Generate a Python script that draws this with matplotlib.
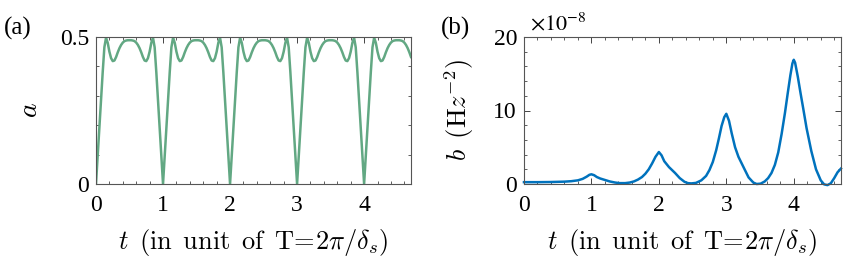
import numpy as np
import matplotlib
matplotlib.use("Agg")
import matplotlib.pyplot as plt
from matplotlib.ticker import MultipleLocator

plt.rcParams['font.family'] = ['Liberation Serif', 'DejaVu Serif']
plt.rcParams['mathtext.fontset'] = 'stix'

# panel (a): a(t), read every 0.025 T (one row per period)
t_a = [round(0.025 * k, 3) for k in range(189)]
a_vals = (
    [0.000, 0.095, 0.190, 0.285, 0.380, 0.465, 0.498, 0.480, 0.450, 0.428,
     0.418, 0.420, 0.432, 0.448, 0.462, 0.473, 0.481, 0.486, 0.488, 0.489,
     0.489, 0.489, 0.488, 0.486, 0.481, 0.473, 0.462, 0.448, 0.432, 0.420,
     0.418, 0.428, 0.450, 0.480, 0.498, 0.465, 0.380, 0.285, 0.190, 0.095]
    + [0.000, 0.095, 0.190, 0.285, 0.380, 0.465, 0.498, 0.480, 0.450, 0.428,
       0.418, 0.420, 0.432, 0.448, 0.462, 0.473, 0.481, 0.486, 0.488, 0.489,
       0.489, 0.489, 0.488, 0.486, 0.481, 0.473, 0.462, 0.448, 0.432, 0.420,
       0.418, 0.428, 0.450, 0.480, 0.498, 0.465, 0.380, 0.285, 0.190, 0.095]
    + [0.000, 0.095, 0.190, 0.285, 0.380, 0.465, 0.498, 0.480, 0.450, 0.428,
       0.418, 0.420, 0.432, 0.448, 0.462, 0.473, 0.481, 0.486, 0.488, 0.489,
       0.489, 0.489, 0.488, 0.486, 0.481, 0.473, 0.462, 0.448, 0.432, 0.420,
       0.418, 0.428, 0.450, 0.480, 0.498, 0.465, 0.380, 0.285, 0.190, 0.095]
    + [0.000, 0.095, 0.190, 0.285, 0.380, 0.465, 0.498, 0.480, 0.450, 0.428,
       0.418, 0.420, 0.432, 0.448, 0.462, 0.473, 0.481, 0.486, 0.488, 0.489,
       0.489, 0.489, 0.488, 0.486, 0.481, 0.473, 0.462, 0.448, 0.432, 0.420,
       0.418, 0.428, 0.450, 0.480, 0.498, 0.465, 0.380, 0.285, 0.190, 0.095]
    + [0.000, 0.095, 0.190, 0.285, 0.380, 0.465, 0.498, 0.480, 0.450, 0.428,
       0.418, 0.420, 0.432, 0.448, 0.462, 0.473, 0.481, 0.486, 0.488, 0.489,
       0.489, 0.489, 0.488, 0.486, 0.481, 0.473, 0.462, 0.448, 0.432]
)

# panel (b): b(t) in units of 1e-8 Hz^-2
t_b = [0, 0.2, 0.4, 0.6, 0.7, 0.8, 0.87, 0.93, 0.97, 1.0, 1.04, 1.08, 1.13,
       1.2, 1.27, 1.35, 1.42, 1.5, 1.57, 1.63, 1.69, 1.75, 1.8, 1.85, 1.9,
       1.95, 2.0, 2.04, 2.08, 2.15, 2.24, 2.31, 2.38, 2.43, 2.48, 2.55, 2.63,
       2.7, 2.75, 2.8, 2.85, 2.89, 2.93, 2.97, 3.0, 3.04, 3.08, 3.13, 3.18,
       3.26, 3.33, 3.4, 3.45, 3.51, 3.57, 3.62, 3.67, 3.72, 3.77, 3.82, 3.87,
       3.91, 3.95, 3.98, 4.0, 4.02, 4.06, 4.1, 4.14, 4.19, 4.26, 4.33, 4.4,
       4.45, 4.5, 4.55, 4.6, 4.65, 4.7]
b_vals = [0.25, 0.25, 0.27, 0.32, 0.38, 0.5, 0.7, 1.0, 1.25, 1.32, 1.2, 0.95,
          0.75, 0.55, 0.35, 0.2, 0.12, 0.12, 0.2, 0.35, 0.6, 0.95, 1.4, 2.0,
          2.8, 3.7, 4.35, 3.9, 3.1, 2.3, 1.5, 0.8, 0.3, 0.12, 0.08, 0.15, 0.5,
          1.1, 1.9, 3.0, 4.6, 6.2, 7.9, 9.1, 9.55, 8.6, 6.9, 5.0, 3.7, 2.2,
          0.9, 0.2, 0.0, 0.05, 0.35, 0.8, 1.5, 2.6, 4.3, 6.8, 9.7, 12.3, 14.8,
          16.4, 16.9, 16.5, 14.6, 12.4, 10.3, 7.6, 4.5, 2.0, 0.5, -0.05, -0.15,
          0.1, 0.8, 1.6, 2.1]

xlabel = r"$t\ \,(\mathrm{in\ \,unit\ \,of\ \,T\!=\!2}\pi/\delta_s)$"
fs_tick = 17
fs_lab = 19

fig = plt.figure(figsize=(8.48, 2.6), dpi=100)
ax1 = fig.add_axes([0.1132, 0.2923, 0.3715, 0.5654])
ax2 = fig.add_axes([0.6179, 0.2923, 0.3738, 0.5654])

ax1.plot(t_a, a_vals, color='#62a883', lw=1.8)
ax1.set_xlim(0, 4.7)
ax1.set_ylim(0, 0.5)
ax1.set_yticks([0, 0.5])
ax1.set_yticklabels(['0', '0.5'])
ax1.yaxis.set_minor_locator(MultipleLocator(0.1))
ax1.set_ylabel(r"$a$", fontsize=fs_lab + 1, math_fontfamily='cm')
ax1.yaxis.set_label_coords(-0.168, 0.5)

ax2.plot(t_b, b_vals, color='#0072bd', lw=1.8, clip_on=False)
ax2.set_xlim(0, 4.7)
ax2.set_ylim(0, 20)
ax2.set_yticks([0, 10, 20])
ax2.yaxis.set_minor_locator(MultipleLocator(2))
ax2.set_ylabel(r"$b\ \,(\mathrm{H}z^{-2})$", fontsize=fs_lab,
               math_fontfamily='cm')
ax2.yaxis.set_label_coords(-0.15, 0.5)
ax2.text(0.02, 1.01, r"$\times10^{-8}$", transform=ax2.transAxes,
         fontsize=16, ha='left', va='bottom')

for ax in (ax1, ax2):
    ax.set_xticks([0, 1, 2, 3, 4])
    ax.xaxis.set_minor_locator(MultipleLocator(0.2))
    ax.tick_params(which='both', direction='in', top=True, right=True,
                   colors='#444444', labelcolor='black', labelsize=fs_tick)
    ax.tick_params(which='major', length=4, width=0.7, pad=5)
    ax.tick_params(axis='x', which='major', pad=8)
    ax.tick_params(which='minor', length=2.5, width=0.6)
    for s in ax.spines.values():
        s.set_color('#555555')
        s.set_linewidth(0.8)
    ax.set_xlabel(xlabel, fontsize=fs_lab, math_fontfamily='cm')
    ax.xaxis.set_label_coords(0.5, -0.29)

fig.text(0.004, 0.935, "(a)", fontsize=18, va='top', ha='left')
fig.text(0.52, 0.935, "(b)", fontsize=18, va='top', ha='left')

fig.savefig("out.png", dpi=100)
